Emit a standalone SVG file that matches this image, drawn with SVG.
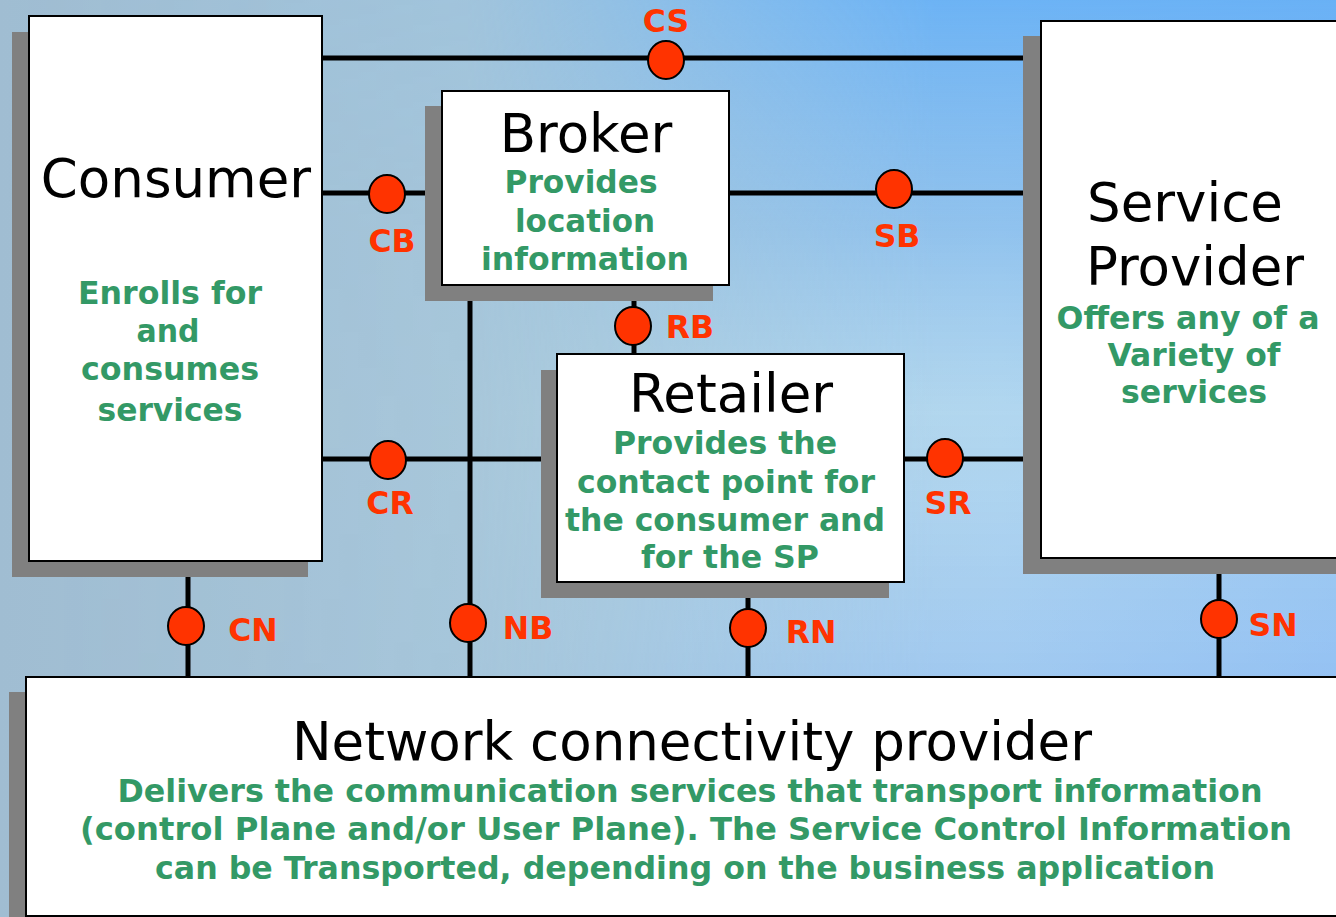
<svg xmlns="http://www.w3.org/2000/svg" width="1336" height="917" viewBox="0 0 1336 917">
<defs>
<linearGradient id="bg" x1="0" y1="0" x2="1" y2="0">
<stop offset="0" stop-color="#a0bdd2"/>
<stop offset="0.45" stop-color="#a9c9dc"/>
<stop offset="0.75" stop-color="#a8d0ee"/>
<stop offset="1" stop-color="#92c2f2"/>
</linearGradient>
<linearGradient id="bgv" x1="0" y1="0" x2="0" y2="1">
<stop offset="0" stop-color="#62aef6" stop-opacity="0.85"/>
<stop offset="0.25" stop-color="#74b2ee" stop-opacity="0.45"/>
<stop offset="0.45" stop-color="#c4e4f2" stop-opacity="0.35"/>
<stop offset="0.75" stop-color="#96c0f4" stop-opacity="0.45"/>
<stop offset="1" stop-color="#9cc4f2" stop-opacity="0"/>
</linearGradient>
<linearGradient id="fade" x1="0" y1="0" x2="1" y2="0">
<stop offset="0" stop-color="#fff" stop-opacity="0"/>
<stop offset="0.35" stop-color="#fff" stop-opacity="0.1"/>
<stop offset="0.7" stop-color="#fff" stop-opacity="1"/>
<stop offset="1" stop-color="#fff" stop-opacity="1"/>
</linearGradient>
<mask id="m"><rect width="1336" height="917" fill="url(#fade)"/></mask>
</defs>
<style>
.box{fill:#fff;stroke:#000;stroke-width:2}
.sh{fill:#808080}
.t{font-family:"DejaVu Sans","Verdana",sans-serif;font-size:53px;fill:#000;text-anchor:middle}
.g{font-family:"DejaVu Sans","Verdana",sans-serif;font-size:32px;font-weight:bold;fill:#339966;text-anchor:middle}
.r{font-family:"DejaVu Sans","Verdana",sans-serif;font-size:31.5px;font-weight:bold;fill:#ff3300;text-anchor:middle}
.ln{stroke:#000;stroke-width:5;fill:none}
.pt{fill:#ff3300;stroke:#000;stroke-width:2}
</style>
<rect width="1336" height="917" fill="url(#bg)"/>
<rect width="1336" height="917" fill="url(#bgv)" mask="url(#m)"/>

<g id="connectors">
<line class="ln" x1="322" y1="58" x2="1041" y2="58"/>
<line class="ln" x1="322" y1="193" x2="442" y2="193"/>
<line class="ln" x1="729" y1="193" x2="1041" y2="193"/>
<line class="ln" x1="322" y1="459" x2="557" y2="459"/>
<line class="ln" x1="904" y1="459" x2="1041" y2="459"/>
<line class="ln" x1="470" y1="285" x2="470" y2="677"/>
<line class="ln" x1="634" y1="285" x2="634" y2="354"/>
<line class="ln" x1="188" y1="561" x2="188" y2="677"/>
<line class="ln" x1="748" y1="582" x2="748" y2="677"/>
<line class="ln" x1="1219" y1="558" x2="1219" y2="677"/>
</g>

<g id="consumer">
<rect class="sh" x="12" y="32" width="296" height="545"/>
<rect class="box" x="29" y="16" width="293" height="545"/>
<text class="t" x="176" y="197">Consumer</text>
<text class="g" x="170" y="304" textLength="184" lengthAdjust="spacingAndGlyphs">Enrolls for</text>
<text class="g" x="168" y="342" textLength="63" lengthAdjust="spacingAndGlyphs">and</text>
<text class="g" x="170" y="380" textLength="178" lengthAdjust="spacingAndGlyphs">consumes</text>
<text class="g" x="170" y="421" textLength="145" lengthAdjust="spacingAndGlyphs">services</text>
</g>

<g id="broker">
<rect class="sh" x="425" y="106" width="288" height="195"/>
<rect class="box" x="442" y="91" width="287" height="194"/>
<text class="t" x="586" y="152">Broker</text>
<text class="g" x="581" y="193" textLength="153" lengthAdjust="spacingAndGlyphs">Provides</text>
<text class="g" x="585" y="232" textLength="140" lengthAdjust="spacingAndGlyphs">location</text>
<text class="g" x="585" y="270" textLength="208" lengthAdjust="spacingAndGlyphs">information</text>
</g>

<g id="retailer">
<rect class="sh" x="541" y="370" width="348" height="228"/>
<rect class="box" x="557" y="354" width="347" height="228"/>
<text class="t" x="731" y="412">Retailer</text>
<text class="g" x="725" y="454" textLength="224" lengthAdjust="spacingAndGlyphs">Provides the</text>
<text class="g" x="726" y="493" textLength="298" lengthAdjust="spacingAndGlyphs">contact point for</text>
<text class="g" x="725" y="531" textLength="320" lengthAdjust="spacingAndGlyphs">the consumer and</text>
<text class="g" x="730" y="568" textLength="178" lengthAdjust="spacingAndGlyphs">for the SP</text>
</g>

<g id="service-provider">
<rect class="sh" x="1023" y="36" width="330" height="538"/>
<rect class="box" x="1041" y="21" width="310" height="537"/>
<text class="t" x="1185" y="221">Service</text>
<text class="t" x="1195" y="285">Provider</text>
<text class="g" x="1188" y="329" textLength="263" lengthAdjust="spacingAndGlyphs">Offers any of a</text>
<text class="g" x="1194" y="366" textLength="173" lengthAdjust="spacingAndGlyphs">Variety of</text>
<text class="g" x="1194" y="403" textLength="146" lengthAdjust="spacingAndGlyphs">services</text>
</g>

<g id="network">
<rect class="sh" x="9" y="692" width="1340" height="240"/>
<rect class="box" x="26" y="677" width="1330" height="239"/>
<text class="t" x="692" y="760">Network connectivity provider</text>
<text class="g" x="690" y="802" textLength="1145" lengthAdjust="spacingAndGlyphs">Delivers the communication services that transport information</text>
<text class="g" x="686" y="840" textLength="1212" lengthAdjust="spacingAndGlyphs">(control Plane and/or User Plane). The Service Control Information</text>
<text class="g" x="685" y="879" textLength="1060" lengthAdjust="spacingAndGlyphs">can be Transported, depending on the business application</text>
</g>

<g id="points">
<ellipse class="pt" cx="666" cy="60" rx="18" ry="19"/>
<text class="r" x="666" y="32">CS</text>
<ellipse class="pt" cx="387" cy="194" rx="18" ry="19"/>
<text class="r" x="392" y="252">CB</text>
<ellipse class="pt" cx="894" cy="189" rx="18" ry="19"/>
<text class="r" x="897" y="247">SB</text>
<ellipse class="pt" cx="633" cy="326" rx="18" ry="19"/>
<text class="r" x="690" y="338">RB</text>
<ellipse class="pt" cx="388" cy="460" rx="18" ry="19"/>
<text class="r" x="390" y="514">CR</text>
<ellipse class="pt" cx="945" cy="458" rx="18" ry="19"/>
<text class="r" x="948" y="514">SR</text>
<ellipse class="pt" cx="186" cy="626" rx="18" ry="19"/>
<text class="r" x="253" y="641">CN</text>
<ellipse class="pt" cx="468" cy="623" rx="18" ry="19"/>
<text class="r" x="528" y="639">NB</text>
<ellipse class="pt" cx="748" cy="628" rx="18" ry="19"/>
<text class="r" x="811" y="643">RN</text>
<ellipse class="pt" cx="1219" cy="619" rx="18" ry="19"/>
<text class="r" x="1273" y="636">SN</text>
</g>
</svg>
